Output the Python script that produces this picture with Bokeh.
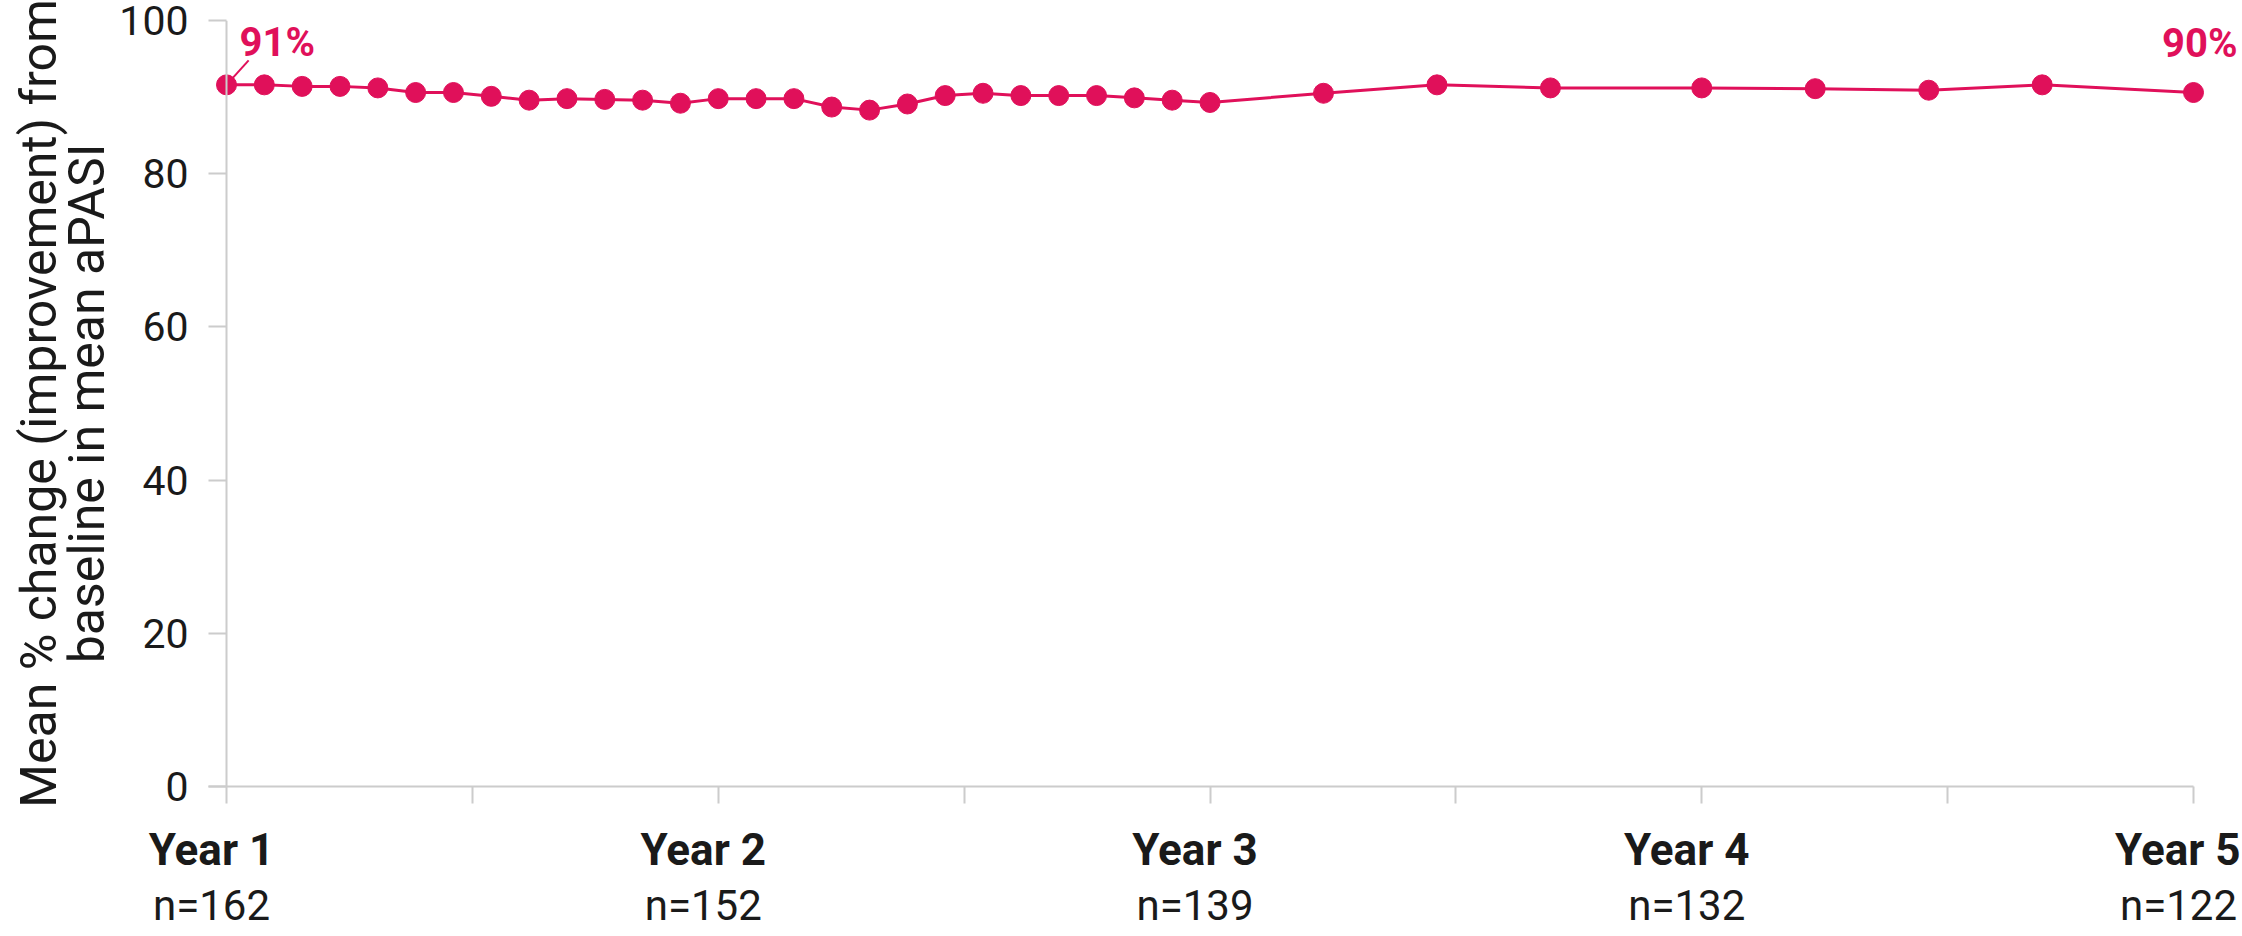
from bokeh.plotting import figure
from bokeh.models import Range1d, FixedTicker, LinearAxis, Span, Label
from bokeh.embed import file_html
from bokeh.resources import INLINE

# ---- data ----
weeks = [0, 4, 8, 12, 16, 20, 24, 28, 32, 36, 40, 44, 48, 52,
         56, 60, 64, 68, 72, 76, 80, 84, 88, 92, 96, 100, 104,
         116, 128, 140, 156, 168, 180, 192, 208]
pct = [91.6, 91.6, 91.4, 91.4, 91.2, 90.6, 90.6, 90.1, 89.6, 89.8, 89.7, 89.6, 89.2, 89.8,
       89.8, 89.8, 88.7, 88.3, 89.1, 90.2, 90.5, 90.2, 90.2, 90.2, 89.9, 89.6, 89.3,
       90.5, 91.6, 91.2, 91.2, 91.1, 90.9, 91.6, 90.6]
year_ticks = [1, 2, 3, 4, 5]
half_ticks = [1, 1.5, 2, 2.5, 3, 3.5, 4, 4.5, 5]
year_labels = ["Year 1", "Year 2", "Year 3", "Year 4", "Year 5"]
n_labels = ["n=162", "n=152", "n=139", "n=132", "n=122"]
y_ticks = [0, 20, 40, 60, 80, 100]
start_label = "91%"
end_label = "90%"
y_title = "Mean % change (improvement) from\nbaseline in mean aPASI"

RED = "#E0105A"
GRAY = "#cccccc"
TXT = "#1a1a1a"
FONT = "Roboto"

x = [1 + w / 52 for w in weeks]

PX_PER_YEAR = 491.75
X0 = 1 - 18 / PX_PER_YEAR
X1 = 5 + 47 / PX_PER_YEAR
LBL_SHIFT = 15 / PX_PER_YEAR   # category labels sit slightly left of their ticks

p = figure(width=2240, height=932, output_backend="svg", toolbar_location=None,
           x_range=Range1d(X0, X1), y_range=Range1d(0, 100),
           x_axis_type=None, y_axis_type=None,
           min_border_left=208, min_border_right=0, min_border_top=20, min_border_bottom=141)
p.outline_line_color = None
p.background_fill_color = "white"
p.border_fill_color = "white"
p.extra_x_ranges = {"lbl": Range1d(X0 + LBL_SHIFT, X1 + LBL_SHIFT)}

# y axis (ticks drawn inward from frame edge up to the Year 1 line)
yax = LinearAxis(ticker=FixedTicker(ticks=y_ticks))
yax.axis_line_color = None
yax.major_tick_in = 18
yax.major_tick_out = 0
yax.major_tick_line_color = GRAY
yax.major_tick_line_width = 2
yax.minor_tick_line_color = None
yax.major_label_text_font = FONT
yax.major_label_text_font_size = "41px"
yax.major_label_text_color = TXT
yax.major_label_standoff = 20
yax.axis_label = y_title
yax.axis_label_text_font = FONT
yax.axis_label_text_font_size = "50px"
yax.axis_label_text_font_style = "normal"
yax.axis_label_text_color = TXT
yax.axis_label_text_line_height = 0.84
yax.axis_label_standoff = 0
p.add_layout(yax, "left")

# x axis: line + ticks
xax = LinearAxis(ticker=FixedTicker(ticks=half_ticks))
xax.bounds = (X0, year_ticks[-1])
xax.axis_line_color = GRAY
xax.axis_line_width = 2
xax.major_tick_in = 0
xax.major_tick_out = 17
xax.major_tick_line_color = GRAY
xax.major_tick_line_width = 2
xax.minor_tick_line_color = None
xax.major_label_text_color = None
xax.major_label_text_font_size = "1px"
xax.major_label_standoff = 0
p.add_layout(xax, "below")

# x labels row 1: Year N (bold)
yr_ax = LinearAxis(ticker=FixedTicker(ticks=year_ticks), x_range_name="lbl")
yr_ax.major_label_overrides = dict(zip(year_ticks, year_labels))
yr_ax.axis_line_color = None
yr_ax.major_tick_line_color = None
yr_ax.minor_tick_line_color = None
yr_ax.major_tick_in = 0
yr_ax.major_tick_out = 0
yr_ax.major_label_standoff = 20
yr_ax.major_label_text_font = FONT
yr_ax.major_label_text_font_size = "44px"
yr_ax.major_label_text_font_style = "bold"
yr_ax.major_label_text_color = TXT
p.add_layout(yr_ax, "below")

# x labels row 2: n= (regular)
n_ax = LinearAxis(ticker=FixedTicker(ticks=year_ticks), x_range_name="lbl")
n_ax.major_label_overrides = dict(zip(year_ticks, n_labels))
n_ax.axis_line_color = None
n_ax.major_tick_line_color = None
n_ax.minor_tick_line_color = None
n_ax.major_tick_in = 0
n_ax.major_tick_out = 0
n_ax.major_label_standoff = 2
n_ax.major_label_text_font = FONT
n_ax.major_label_text_font_size = "42px"
n_ax.major_label_text_color = TXT
p.add_layout(n_ax, "below")

# vertical axis line at Year 1
p.add_layout(Span(location=year_ticks[0], dimension="height", line_color=GRAY, line_width=2))

# data
p.line(x, pct, line_color=RED, line_width=3)
p.scatter(x, pct, size=20, fill_color=RED, line_color=RED)

# leader + end labels
p.segment(x0=[x[0]], y0=[pct[0]], x1=[x[0] + 0.045], y1=[pct[0] + 3.2], line_color=RED, line_width=2)
p.add_layout(Label(x=x[0], y=pct[0], x_offset=13, y_offset=42, text=start_label,
                   text_font=FONT, text_font_size="40px", text_font_style="bold",
                   text_color=RED, text_align="left", text_baseline="alphabetic"))
p.add_layout(Label(x=x[-1], y=pct[-1], x_offset=44, y_offset=49, text=end_label,
                   text_font=FONT, text_font_size="40px", text_font_style="bold",
                   text_color=RED, text_align="right", text_baseline="alphabetic"))

open("out.html", "w").write(file_html(p, INLINE))
